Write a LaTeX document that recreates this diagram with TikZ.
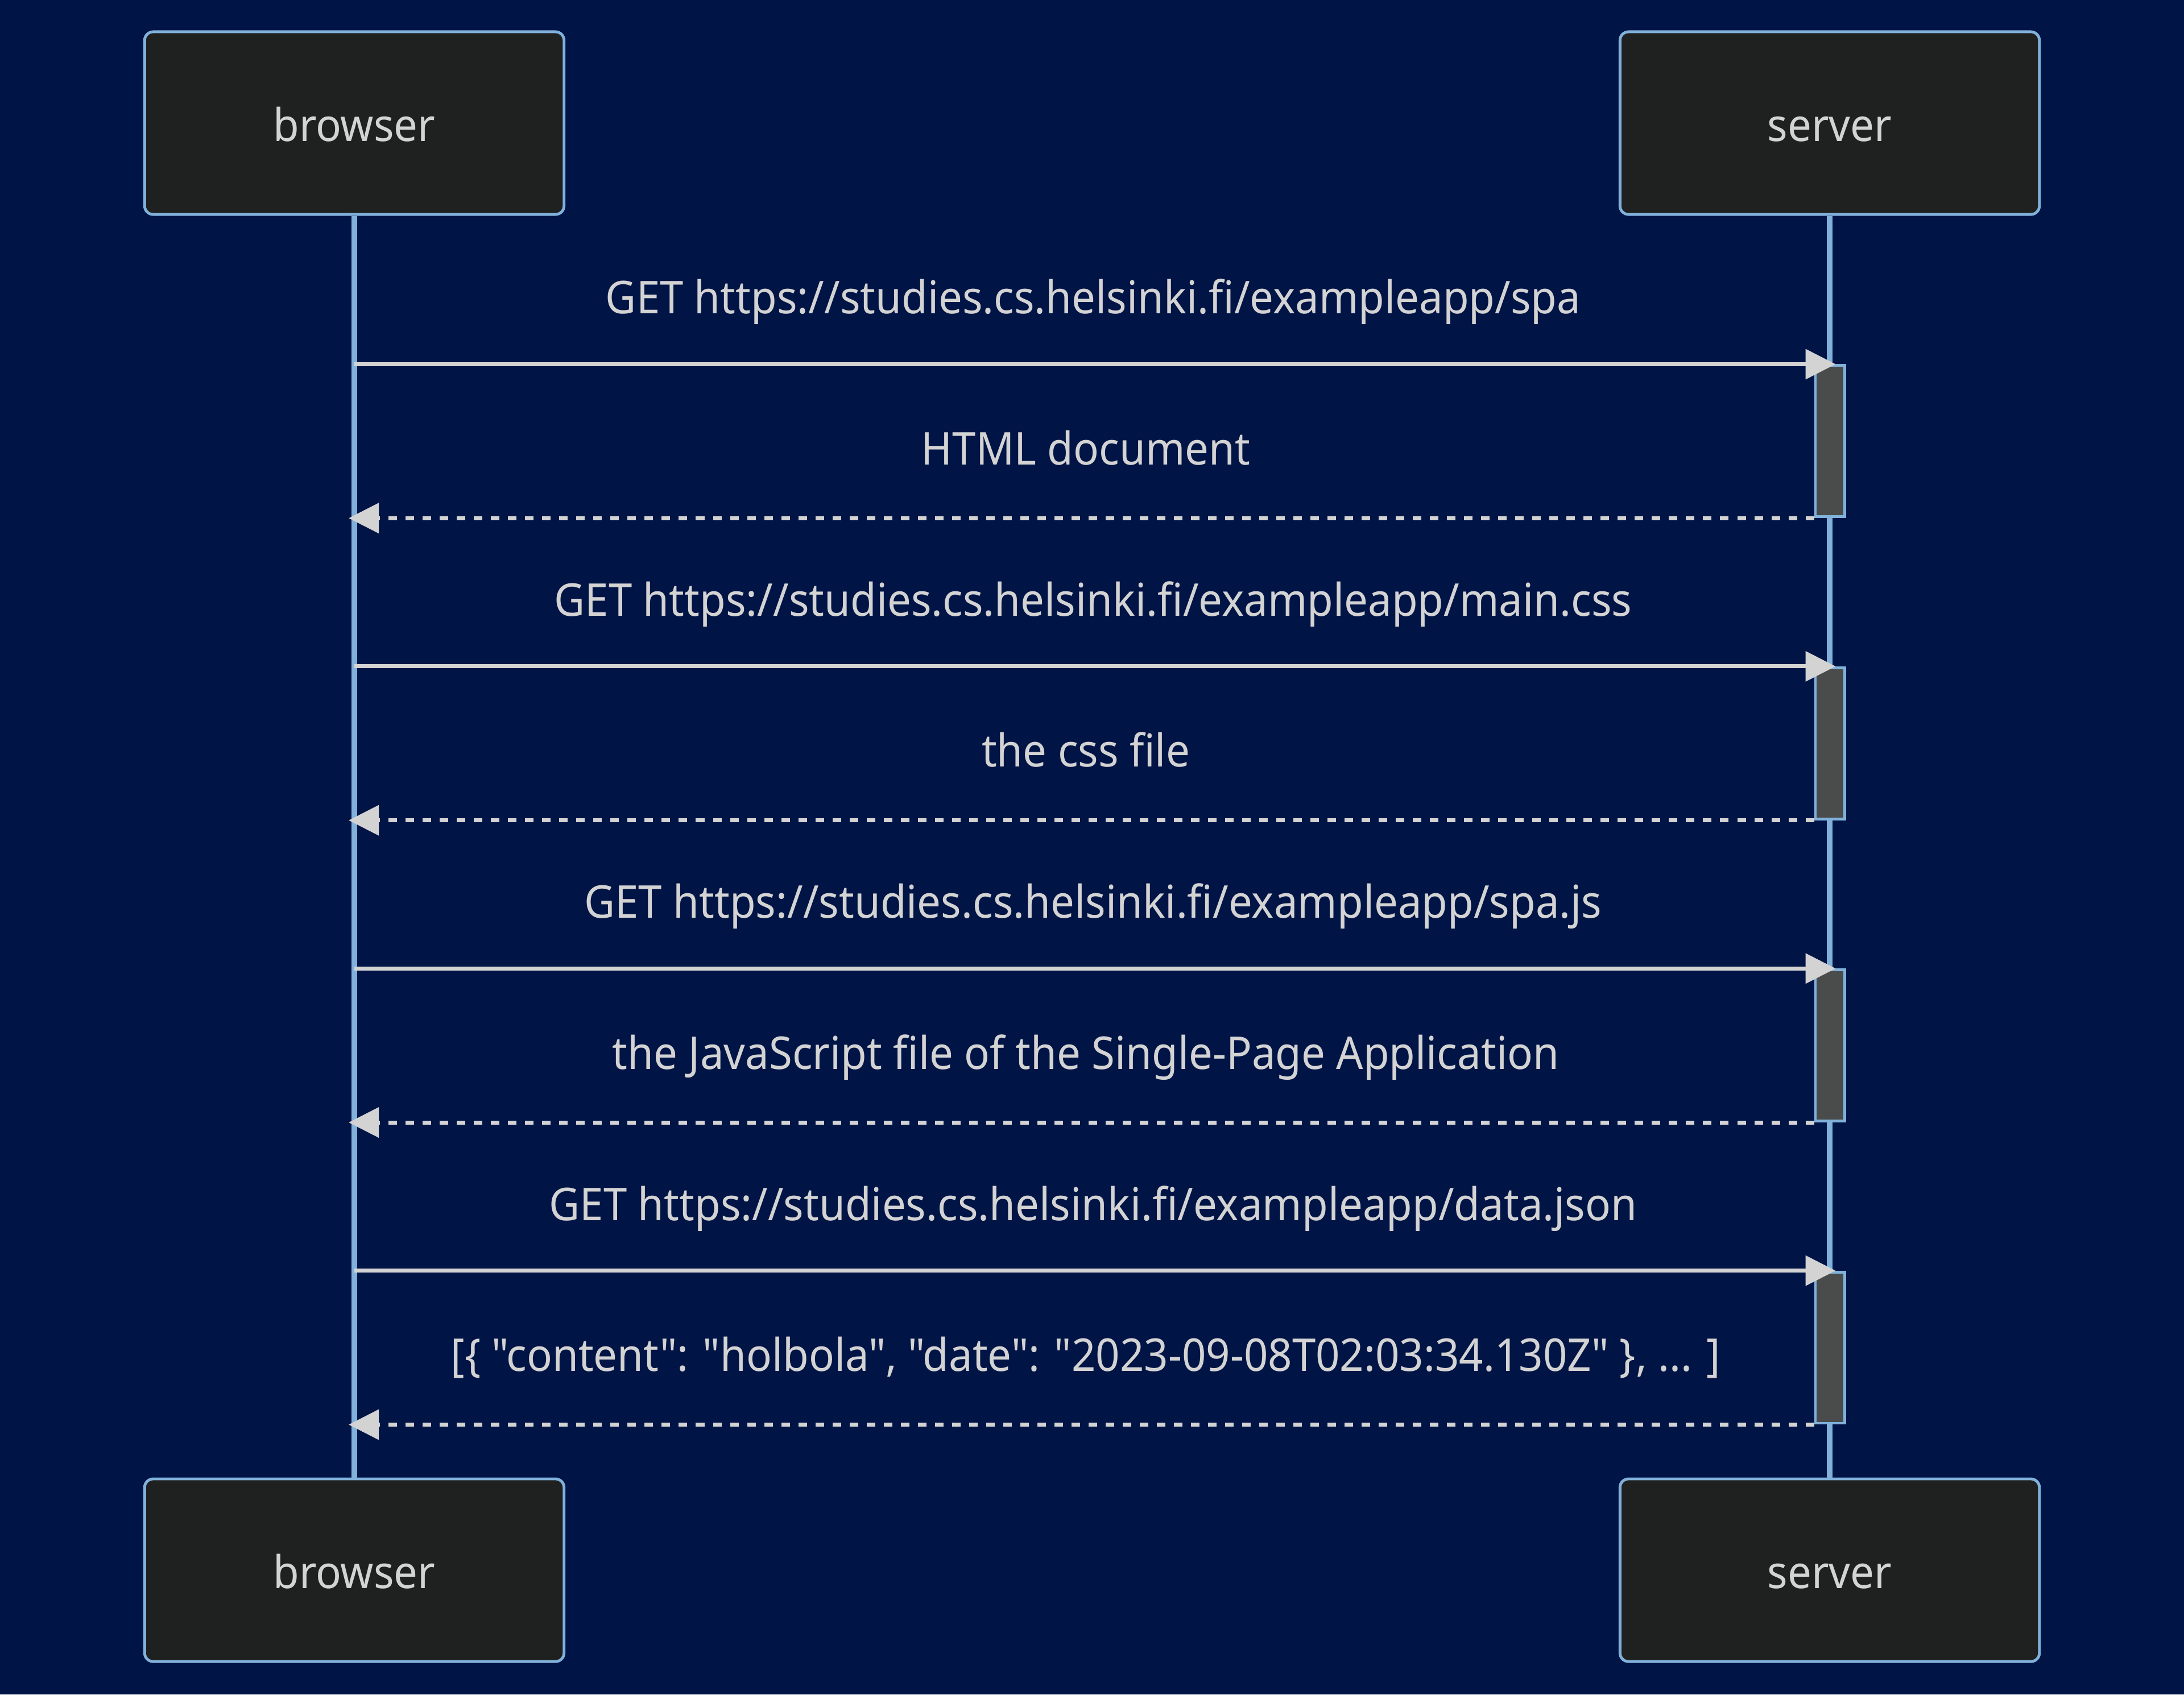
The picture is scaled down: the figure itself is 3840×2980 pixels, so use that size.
\documentclass[tikz,border=0pt]{standalone}
\usepackage{fontspec}
\setmainfont{Noto Sans}[Ligatures=TeXOff, FakeStretch=0.935]
\usetikzlibrary{arrows.meta}
\definecolor{bg}{RGB}{0,20,70}
\definecolor{actfill}{HTML}{1F2020}
\definecolor{actborder}{HTML}{81B1DB}
\definecolor{sig}{HTML}{D3D3D3}
\definecolor{actv}{HTML}{4A4B4B}
\begin{document}
\begin{tikzpicture}[x=0.01cm,y=-0.01cm,
  actor/.style={draw=actborder, fill=actfill, line width=1.4pt, rounded corners=0.15cm,
    minimum width=7.37cm, minimum height=3.21cm, inner sep=0pt,
    text=sig, font=\fontsize{22.6}{26}\selectfont, text height=0.63cm, text depth=0cm},
  life/.style={draw=actborder, line width=2.6pt},
  actbox/.style={draw=actborder, fill=actv, line width=1.4pt, minimum width=0.51cm, inner sep=0pt},
  req/.style={draw=sig, line width=2pt, -{Triangle[length=0.53cm, width=0.52cm]}},
  resp/.style={req, dash pattern=on 0.15cm off 0.15cm},
  lbl/.style={text=sig, font=\fontsize{22.6}{26}\selectfont, anchor=base, inner sep=0pt}
]
\fill[bg] (0,0) rectangle (3840,2980);
\useasboundingbox (0,0) rectangle (3840,2980);

\node[actor] (bt) at (623,216.5) {browser};
\node[actor] (st) at (3217,216.5) {server};
\node[actor] (bb) at (623,2761.5) {browser};
\node[actor] (sb) at (3217,2761.5) {server};

\draw[life] (bt.south) -- (bb.north);
\draw[life] (st.south) -- (sb.north);

% activation boxes
\node[actbox, minimum height=2.657cm] (a1) at (3217.5,775.85) {};
\node[actbox, minimum height=2.657cm] (a2) at (3217.5,1307.25) {};
\node[actbox, minimum height=2.657cm] (a3) at (3217.5,1838.65) {};
\node[actbox, minimum height=2.657cm] (a4) at (3217.5,2370.05) {};

% coordinates on the browser lifeline
\coordinate (q1) at (bt.south |- a1.north);
\coordinate (r1) at ([xshift=-0.1cm]bt.south |- a1.south);
\coordinate (q2) at (bt.south |- a2.north);
\coordinate (r2) at ([xshift=-0.1cm]bt.south |- a2.south);
\coordinate (q3) at (bt.south |- a3.north);
\coordinate (r3) at ([xshift=-0.1cm]bt.south |- a3.south);
\coordinate (q4) at (bt.south |- a4.north);
\coordinate (r4) at ([xshift=-0.1cm]bt.south |- a4.south);

\draw[req] (q1) -- ([xshift=0.1cm]a1.north);
\draw[resp] (a1.south west) -- (r1);
\draw[req] (q2) -- ([xshift=0.1cm]a2.north);
\draw[resp] (a2.south west) -- (r2);
\draw[req] (q3) -- ([xshift=0.1cm]a3.north);
\draw[resp] (a3.south west) -- (r3);
\draw[req] (q4) -- ([xshift=0.1cm]a4.north);
\draw[resp] (a4.south west) -- (r4);

\node[lbl] (l1) at (1922,551) {GET https://studies.cs.helsinki.fi/exampleapp/spa};
\node[lbl] (l2) at (1909,817) {HTML document};
\node[lbl] (l3) at (1922,1083) {GET https://studies.cs.helsinki.fi/exampleapp/main.css};
\node[lbl] (l4) at (1909,1348) {the css file};
\node[lbl] (l5) at (1922,1614) {GET https://studies.cs.helsinki.fi/exampleapp/spa.js};
\node[lbl] (l6) at (1909,1880) {the JavaScript file of the Single-Page Application};
\node[lbl] (l7) at (1922,2146) {GET https://studies.cs.helsinki.fi/exampleapp/data.json};
\node[lbl] (l8) at (1909,2411) {[\{ "content": "holbola", "date": "2023-09-08T02:03:34.130Z" \}, ... ]};
\end{tikzpicture}
\end{document}
